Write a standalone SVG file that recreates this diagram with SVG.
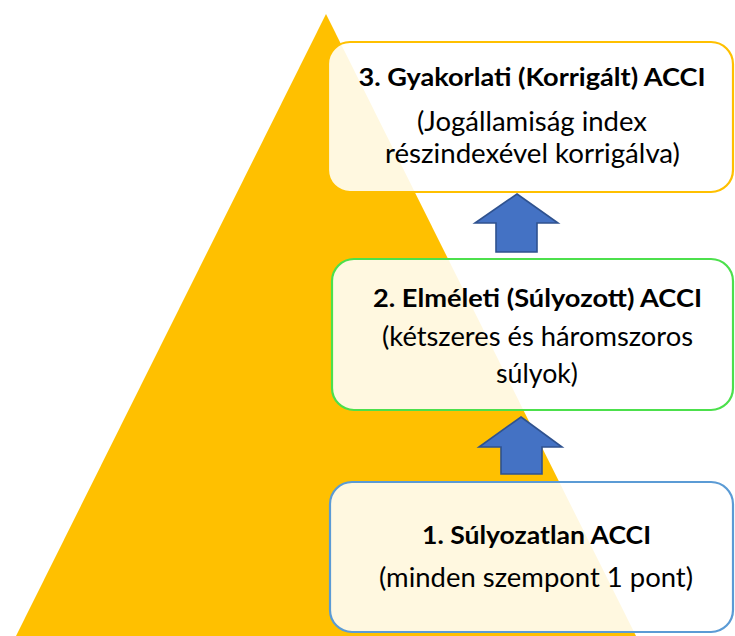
<svg xmlns="http://www.w3.org/2000/svg" width="735" height="636" viewBox="0 0 735 636">
  <style>
    .box { fill: #ffffff; fill-opacity: 0.88; stroke-width: 2.2; }
    .title { font-family: Lato, "Liberation Sans", sans-serif; font-weight: bold; font-size: 25px; fill: #000000; text-anchor: middle; }
    .sub { font-family: Lato, "Liberation Sans", sans-serif; font-size: 26px; fill: #000000; text-anchor: middle; }
    .arrow { fill: #4472C4; stroke: #2F528F; stroke-width: 1.6; stroke-linejoin: miter; }
  </style>
  <rect width="735" height="636" fill="#ffffff"/>
  <polygon id="pyramid" points="326,14 16,636 636,636" fill="#FFC000"/>
  <g id="connectors">
    <polygon class="arrow" points="517,194 558,223 537,223 537,252 496,252 496,223 475,223"/>
    <polygon class="arrow" points="521,417 562,447 542,447 542,474 501,474 501,447 479,447"/>
  </g>
  <g id="node3">
    <rect class="box" x="328" y="42" width="405" height="150" rx="22" ry="22" stroke="#FFC000"/>
    <text class="title" x="532" y="86" textLength="347" lengthAdjust="spacingAndGlyphs">3. Gyakorlati (Korrigált) ACCI</text>
    <text class="sub" x="532" y="131" textLength="230" lengthAdjust="spacingAndGlyphs">(Jogállamiság index</text>
    <text class="sub" x="532.5" y="163" textLength="295" lengthAdjust="spacingAndGlyphs">részindexével korrigálva)</text>
  </g>
  <g id="node2">
    <rect class="box" x="332" y="259" width="401" height="151" rx="22" ry="22" stroke="#4CE04C"/>
    <text class="title" x="537.5" y="307" textLength="329" lengthAdjust="spacingAndGlyphs">2. Elméleti (Súlyozott) ACCI</text>
    <text class="sub" x="537.5" y="346" textLength="311" lengthAdjust="spacingAndGlyphs">(kétszeres és háromszoros</text>
    <text class="sub" x="537" y="383" textLength="82" lengthAdjust="spacingAndGlyphs">súlyok)</text>
  </g>
  <g id="node1">
    <rect class="box" x="330" y="482" width="403" height="150" rx="22" ry="22" stroke="#5B9BD5"/>
    <text class="title" x="536.5" y="544" textLength="229" lengthAdjust="spacingAndGlyphs">1. Súlyozatlan ACCI</text>
    <text class="sub" x="536" y="587" textLength="314" lengthAdjust="spacingAndGlyphs">(minden szempont 1 pont)</text>
  </g>
</svg>
